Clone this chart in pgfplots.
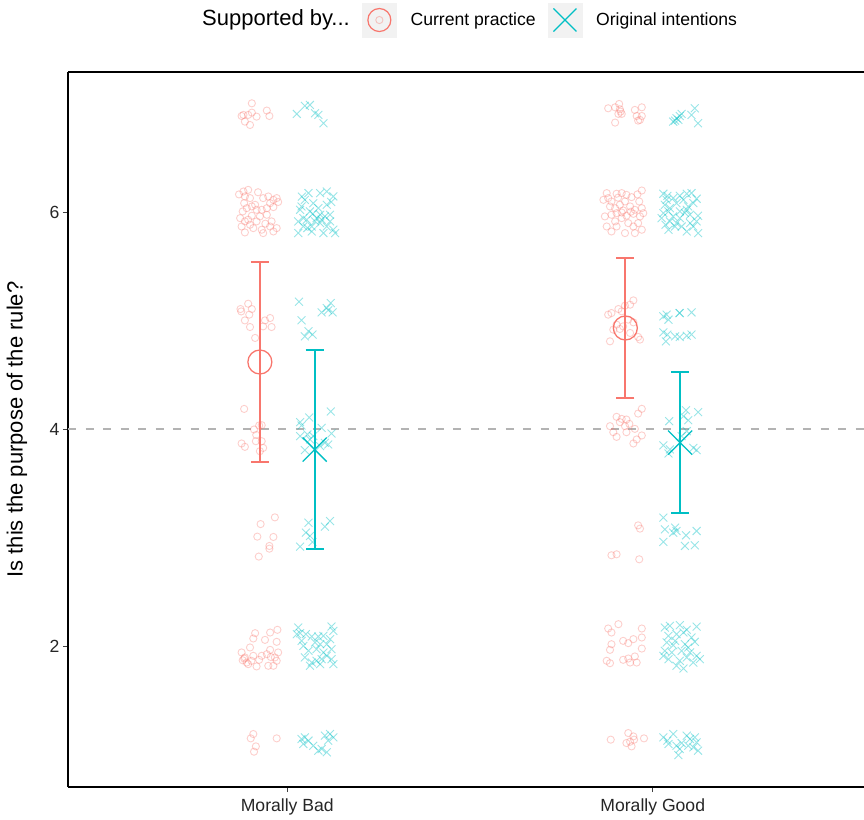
\documentclass[border=0pt]{standalone}
\usepackage{pgfplots}
\pgfplotsset{compat=1.18}
\usepackage{fontspec}
\setmainfont{Liberation Sans}
\definecolor{cp}{HTML}{F8766D}
\definecolor{oi}{HTML}{00BFC4}
\definecolor{keybg}{HTML}{F2F2F2}
\definecolor{refl}{HTML}{B3B3B3}
\begin{document}
\begin{tikzpicture}
\useasboundingbox (0,0) rectangle (864pt,819pt);
\begin{axis}[
  at={(68pt,32pt)}, anchor=south west,
  scale only axis, width=796pt, height=715pt,
  xmin=0.4, xmax=2.578, ymin=0.7, ymax=7.3,
  axis x line*=box, axis y line*=left,
  axis line style={line width=1.6pt, black},
  xtick={1,2}, xticklabels={Morally Bad, Morally Good},
  ytick={2,4,6},
  xtick pos=left, ytick pos=left,
  tick align=outside, major tick length=5pt,
  tick style={line width=1.2pt, black!75},
  /pgf/number format/assume math mode=true,
  tick label style={font=\fontsize{17.6}{20}\selectfont, black!85},
  xticklabel style={yshift=-3pt},
  ylabel={Is this the purpose of the rule?},
  ylabel style={font=\fontsize{22}{26}\selectfont, at={(axis description cs:-0.064,0.5)}, anchor=center},
  legend columns=2,
  legend cell align=left,
  legend style={at={(axis description cs:0.3693,1.0727)}, anchor=west, draw=none, fill=none,
    font=\fontsize{17.6}{20}\selectfont, inner sep=0pt,
    nodes={inner sep=0pt, anchor=west},
    /tikz/every odd column/.append style={column sep=14pt},
    /tikz/every even column/.append style={column sep=12pt}},
]
% reference line
\addplot[forget plot, refl, line width=2pt, dash pattern=on 8pt off 9.5pt] coordinates {(0.4,4) (2.578,4)};

% Current practice points
\addplot[forget plot, only marks, mark=o, mark size=3.6pt, cp, mark options={draw opacity=0.35, line width=0.9pt}] coordinates {
(0.903,7.011) (0.880,6.904) (0.893,6.904) (0.903,6.925) (0.916,6.888) (0.944,6.944) (0.951,6.894) (0.884,6.842) (0.898,6.811) (0.875,6.894)
(0.880,6.197) (0.893,6.212) (0.884,6.151) (0.898,6.136) (0.882,6.089) (0.889,6.043) (0.878,6.013) (0.934,6.136) (0.948,6.151) (0.962,6.120)
(0.971,6.136) (0.953,6.089) (0.962,6.053) (0.944,6.043) (0.916,6.028) (0.903,5.973) (0.893,5.936) (0.884,5.921) (0.925,5.967) (0.944,5.982)
(0.875,5.874) (0.898,5.890) (0.907,5.859) (0.930,5.844) (0.953,5.874) (0.971,5.859) (0.884,5.819) (0.934,5.813) (0.962,5.828) (0.916,5.921)
(0.912,6.074) (0.930,6.028) (0.957,5.921) (0.871,5.951) (0.903,6.059) (0.868,6.170) (0.975,6.100) (0.920,6.190) (0.940,5.900)
(0.872,5.112) (0.893,5.161) (0.903,5.112) (0.896,5.060) (0.884,5.007) (0.898,4.946) (0.939,5.007) (0.953,5.029) (0.934,4.952) (0.957,4.946) (0.912,4.845) (0.874,5.090)
(0.882,4.190) (0.909,4.000) (0.923,4.037) (0.930,4.040) (0.875,3.871) (0.884,3.840) (0.914,3.892) (0.930,3.892) (0.934,3.830) (0.925,3.800) (0.915,3.950)
(0.966,3.189) (0.927,3.127) (0.918,3.011) (0.962,3.008) (0.951,2.925) (0.951,2.900) (0.922,2.827)
(0.912,2.120) (0.907,2.071) (0.953,2.126) (0.973,2.151) (0.939,2.058) (0.971,2.040) (0.898,1.988) (0.875,1.942) (0.884,1.896) (0.907,1.911)
(0.889,1.849) (0.923,1.874) (0.944,1.926) (0.953,1.966) (0.966,1.896) (0.975,1.942) (0.971,1.865) (0.948,1.819) (0.916,1.813) (0.893,1.834)
(0.930,1.911) (0.962,1.819) (0.882,1.886) (0.902,1.865) (0.955,1.900) (0.878,1.870)
(0.907,1.189) (0.900,1.149) (0.971,1.149) (0.914,1.075) (0.909,1.026)
(1.878,6.965) (1.897,6.974) (1.908,7.005) (1.910,6.956) (1.906,6.913) (1.915,6.913) (1.897,6.833) (1.951,6.950) (1.970,6.974) (1.956,6.894) (1.970,6.894) (1.965,6.858) (1.960,6.851) (1.912,6.934)
(1.874,6.182) (1.878,6.136) (1.887,6.105) (1.901,6.176) (1.915,6.182) (1.928,6.166) (1.942,6.145) (1.970,6.206) (1.963,6.105) (1.883,6.059)
(1.897,6.043) (1.910,6.074) (1.919,6.022) (1.938,6.059) (1.951,6.028) (1.970,6.043) (1.869,5.967) (1.887,5.982) (1.901,5.997) (1.915,5.951)
(1.928,5.973) (1.947,5.991) (1.965,5.967) (1.874,5.874) (1.901,5.874) (1.924,5.813) (1.947,5.874) (1.970,5.844) (1.960,5.905) (1.933,5.905)
(1.897,5.921) (1.915,6.003) (1.974,5.997) (1.887,5.828) (1.951,5.813) (1.865,6.120) (1.924,6.105) (1.905,6.140) (1.940,6.010) (1.958,6.170)
(1.878,5.060) (1.887,5.075) (1.906,5.112) (1.924,5.143) (1.938,5.152) (1.947,5.192) (1.915,5.091) (1.933,5.014) (1.947,4.989) (1.892,4.922)
(1.910,4.928) (1.919,4.952) (1.938,4.891) (1.965,4.830) (1.883,4.814) (1.960,4.854) (1.901,4.968)
(1.970,4.191) (1.960,4.147) (1.901,4.117) (1.915,4.098) (1.928,4.092) (1.883,4.031) (1.924,4.031) (1.951,4.006) (1.892,3.975) (1.928,3.975)
(1.901,3.932) (1.970,3.945) (1.956,3.908) (1.947,3.871) (1.910,4.068) (1.936,4.052)
(1.960,3.115) (1.965,3.085) (1.887,2.839) (1.901,2.848) (1.963,2.802)
(1.878,2.163) (1.906,2.203) (1.887,2.126) (1.970,2.163) (1.970,2.080) (1.919,2.049) (1.933,2.028) (1.947,2.065) (1.887,2.018) (1.883,1.966)
(1.970,1.978) (1.874,1.865) (1.883,1.843) (1.919,1.874) (1.933,1.886) (1.951,1.905) (1.938,1.849) (1.956,1.849)
(1.885,1.137) (1.933,1.198) (1.947,1.167) (1.938,1.118) (1.976,1.149) (1.942,1.075) (1.928,1.106) (1.949,1.137)
};

% Original intentions points
\addplot[forget plot, only marks, mark=x, mark size=5.6pt, oi, mark options={draw opacity=0.4, line width=0.9pt}] coordinates {
(1.026,6.913) (1.048,6.987) (1.062,6.996) (1.076,6.919) (1.085,6.904) (1.099,6.827)
(1.058,6.182) (1.090,6.182) (1.108,6.197) (1.126,6.151) (1.048,6.120) (1.071,6.089) (1.039,6.059) (1.108,6.074) (1.062,6.013) (1.090,5.982)
(1.103,5.967) (1.044,5.951) (1.030,5.921) (1.053,5.936) (1.080,5.951) (1.117,5.921) (1.067,5.874) (1.090,5.905) (1.108,5.874) (1.126,5.844)
(1.044,5.874) (1.030,5.813) (1.067,5.828) (1.099,5.813) (1.131,5.813) (1.076,5.921) (1.094,5.936) (1.035,6.028) (1.117,5.982) (1.085,6.043)
(1.040,6.150) (1.120,6.100) (1.070,5.990) (1.055,5.860)
(1.032,5.180) (1.094,5.081) (1.108,5.121) (1.119,5.167) (1.124,5.081) (1.039,5.008) (1.058,4.906) (1.048,4.860) (1.069,4.876) (1.112,5.100)
(1.119,4.166) (1.060,4.111) (1.035,4.068) (1.094,4.015) (1.035,3.939) (1.055,3.954) (1.071,3.939) (1.121,3.963) (1.112,3.862) (1.048,3.810)
(1.090,3.847) (1.039,4.037) (1.062,3.908) (1.103,3.877)
(1.058,3.140) (1.117,3.155) (1.103,3.103) (1.051,3.048) (1.062,3.017) (1.035,2.919) (1.069,2.962)
(1.030,2.172) (1.035,2.120) (1.051,2.111) (1.067,2.089) (1.085,2.089) (1.099,2.095) (1.121,2.181) (1.126,2.141) (1.117,2.065) (1.044,2.003)
(1.058,1.957) (1.080,1.972) (1.108,2.018) (1.121,1.972) (1.090,2.018) (1.076,2.034) (1.067,1.849) (1.080,1.865) (1.094,1.880) (1.126,1.834)
(1.062,1.819) (1.108,1.911) (1.121,1.880) (1.039,2.049) (1.099,1.942) (1.026,2.111) (1.090,1.834) (1.048,1.896)
(1.039,1.143) (1.048,1.158) (1.058,1.128) (1.044,1.097) (1.071,1.081) (1.085,1.035) (1.094,1.051) (1.108,1.020) (1.103,1.174) (1.117,1.189)
(1.126,1.158) (1.112,1.128)
(2.056,6.842) (2.065,6.873) (2.074,6.894) (2.070,6.858) (2.079,6.913) (2.106,6.904) (2.115,6.965) (2.124,6.827) (2.061,6.851)
(2.029,6.176) (2.040,6.157) (2.056,6.136) (2.074,6.157) (2.093,6.176) (2.106,6.182) (2.084,6.120) (2.033,6.074) (2.047,6.043) (2.065,6.089)
(2.097,6.059) (2.111,6.089) (2.029,5.997) (2.043,6.013) (2.074,6.013) (2.093,6.028) (2.124,5.973) (2.024,5.951) (2.047,5.921) (2.065,5.905)
(2.079,5.874) (2.102,5.905) (2.120,5.921) (2.043,5.844) (2.061,5.874) (2.093,5.828) (2.124,5.813) (2.111,5.874) (2.038,6.120) (2.074,5.951)
(2.102,5.982) (2.056,5.967) (2.120,6.130) (2.088,6.000) (2.035,5.890)
(2.029,5.045) (2.043,5.014) (2.038,5.060) (2.073,5.075) (2.106,5.081) (2.074,5.075) (2.029,4.897) (2.040,4.876) (2.061,4.860) (2.074,4.854)
(2.093,4.866) (2.106,4.876) (2.036,4.814)
(2.091,4.178) (2.124,4.160) (2.084,4.123) (2.097,4.086) (2.045,4.077) (2.093,3.985) (2.029,3.853) (2.047,3.816) (2.074,3.877) (2.111,3.831)
(2.120,3.810) (2.043,3.779) (2.079,3.939)
(2.029,3.186) (2.033,3.078) (2.061,3.094) (2.065,3.063) (2.091,3.023) (2.120,3.063) (2.029,2.962) (2.088,2.925) (2.115,2.931) (2.056,3.048)
(2.033,2.172) (2.047,2.187) (2.074,2.194) (2.093,2.151) (2.120,2.181) (2.043,2.095) (2.065,2.111) (2.084,2.126) (2.106,2.080) (2.038,2.034)
(2.056,2.009) (2.088,2.018) (2.115,2.040) (2.033,1.957) (2.052,1.942) (2.102,1.942) (2.120,1.911) (2.043,1.880) (2.093,1.896) (2.065,1.819)
(2.084,1.794) (2.111,1.849) (2.079,1.957) (2.061,2.049) (2.129,1.880) (2.029,1.911) (2.074,1.865) (2.097,1.988)
(2.029,1.158) (2.040,1.128) (2.056,1.189) (2.065,1.081) (2.074,1.051) (2.079,1.106) (2.093,1.174) (2.102,1.143) (2.115,1.158) (2.120,1.112)
(2.111,1.066) (2.124,1.035) (2.070,0.995) (2.043,1.097) (2.097,1.081)
};

% means with confidence intervals
\addplot[forget plot, only marks, mark=o, mark size=12pt, cp, mark options={line width=1.3pt},
  error bars/.cd, y dir=both, y explicit,
  error bar style={line width=2pt, cp},
  error mark options={rotate=90, mark size=9pt, line width=2pt, cp}]
  coordinates {(0.925,4.623) +- (0,0.921) (1.925,4.937) +- (0,0.648)};
\addplot[forget plot, only marks, mark=x, mark size=17pt, oi, mark options={line width=1.3pt},
  error bars/.cd, y dir=both, y explicit,
  error bar style={line width=2pt, oi},
  error mark options={rotate=90, mark size=9pt, line width=2pt, oi}]
  coordinates {(1.075,3.815) +- (0,0.921) (2.075,3.879) +- (0,0.653)};

\addlegendimage{legend image code/.code={
  \fill[keybg] (0pt,-17pt) rectangle (34pt,17pt);
  \draw[cp, line width=1.2pt] (17pt,0pt) circle[radius=11.5pt];
  \draw[cp, draw opacity=0.4, line width=0.9pt] (17pt,0pt) circle[radius=3.6pt];
}}
\addlegendentry{Current practice}
\addlegendimage{legend image code/.code={
  \fill[keybg] (0pt,-17pt) rectangle (34pt,17pt);
  \draw[oi, line width=1.2pt] (5.5pt,-11.5pt) -- (28.5pt,11.5pt);
  \draw[oi, line width=1.2pt] (5.5pt,11.5pt) -- (28.5pt,-11.5pt);
}}
\addlegendentry{Original intentions}
\end{axis}
\node[anchor=east, font=\fontsize{22}{26}\selectfont, inner sep=0pt] at (350pt,799pt) {Supported by...};
\end{tikzpicture}
\end{document}
